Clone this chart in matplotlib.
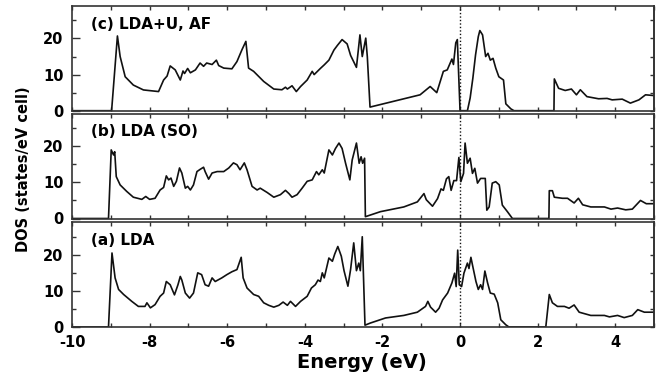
import numpy as np
import matplotlib
matplotlib.use('Agg')
import matplotlib.pyplot as plt
from matplotlib.ticker import MultipleLocator

plt.rcParams['font.family'] = 'DejaVu Sans'
plt.rcParams['font.weight'] = 'bold'
plt.rcParams['axes.unicode_minus'] = False

# (c) LDA+U, AF
energy_c = [-10, -8.98, -8.83, -8.76, -8.63, -8.42, -8.16, -7.77, -7.64, -7.55,
            -7.47, -7.34, -7.21, -7.14, -7.10, -7.02, -6.95, -6.82, -6.70, -6.61,
            -6.53, -6.39, -6.28, -6.22, -6.09, -5.88, -5.75, -5.62, -5.52, -5.45,
            -5.32, -5.06, -4.80, -4.59, -4.50, -4.45, -4.33, -4.22, -4.11, -3.94,
            -3.81, -3.76, -3.60, -3.50, -3.38, -3.25, -3.16, -3.04, -2.91, -2.82,
            -2.67, -2.58, -2.52, -2.43, -2.39, -2.32, -1.03, -0.77, -0.60, -0.43,
            -0.33, -0.21, -0.17, -0.11, -0.07, 0.0, 0.19, 0.26, 0.33, 0.40,
            0.47, 0.51, 0.58, 0.66, 0.72, 0.78, 0.85, 0.92, 1.00, 1.12,
            1.18, 1.31, 1.39, 2.42, 2.43, 2.54, 2.71, 2.87, 3.00, 3.10,
            3.27, 3.57, 3.79, 3.92, 4.18, 4.39, 4.61, 4.78, 4.99]
dos_c = [0, 0, 20.7, 15, 9.4, 7.1, 5.75, 5.3, 8.5, 9.6,
         12.4, 11.3, 8.5, 11, 10.3, 11.7, 10.5, 11.3, 13.2, 12.3,
         13.2, 12.8, 14, 12.5, 11.8, 11.6, 13.6, 16.9, 19.2, 11.8,
         10.9, 8.1, 6, 5.8, 6.5, 6, 6.9, 5.3, 6.7, 8.5,
         10.9, 10, 11.7, 12.7, 14, 16.8, 18.1, 19.7, 18.5, 15.3,
         12, 21, 15, 20.1, 15, 1.0, 4.4, 6.7, 5, 10.9,
         11.3, 14.3, 12.8, 18.8, 19.7, 0, 0, 3.5, 9, 15.5,
         20.5, 22.2, 21, 15, 15.9, 14, 14.5, 11.8, 9.4, 8.5,
         1.9, 0.5, 0, 0, 8.8, 6.2, 5.6, 6, 4.4, 5.8,
         3.9, 3.3, 3.4, 3, 3.2, 2.1, 3, 4.4, 4.2]

# (b) LDA (SO)
energy_b = [-10, -9.06, -8.99, -8.93, -8.90, -8.86, -8.76, -8.59, -8.42, -8.20,
            -8.10, -8.00, -7.86, -7.73, -7.64, -7.57, -7.51, -7.45, -7.38, -7.31,
            -7.23, -7.17, -7.08, -7.02, -6.95, -6.87, -6.78, -6.70, -6.61, -6.57,
            -6.48, -6.39, -6.26, -6.09, -5.96, -5.84, -5.75, -5.67, -5.56, -5.49,
            -5.36, -5.23, -5.15, -4.97, -4.80, -4.63, -4.50, -4.41, -4.33, -4.20,
            -4.07, -3.94, -3.81, -3.70, -3.64, -3.55, -3.50, -3.38, -3.29, -3.21,
            -3.12, -3.04, -2.95, -2.84, -2.78, -2.67, -2.60, -2.55, -2.51, -2.46,
            -2.44, -2.05, -1.45, -1.10, -0.93, -0.87, -0.71, -0.58, -0.49, -0.43,
            -0.35, -0.29, -0.23, -0.16, -0.09, -0.03, 0.02, 0.09, 0.13, 0.19,
            0.26, 0.32, 0.38, 0.45, 0.53, 0.65, 0.69, 0.75, 0.83, 0.92,
            1.01, 1.09, 1.22, 1.35, 2.29, 2.30, 2.38, 2.43, 2.64, 2.77,
            2.94, 3.05, 3.16, 3.37, 3.72, 3.89, 4.06, 4.27, 4.44, 4.65,
            4.80, 5.0]
dos_b = [0, 0, 19, 17.6, 18.5, 11.6, 9.3, 7.5, 5.9, 5.3,
         6.1, 5.3, 5.6, 7.9, 8.6, 11.8, 10.7, 11.2, 8.9, 10.3,
         14, 12.6, 8.4, 8.9, 7.9, 9.3, 13, 13.6, 14.2, 13,
         10.9, 12.6, 13, 13, 14, 15.4, 14.9, 13.5, 15.4, 13.5,
         8.9, 7.9, 8.4, 7.2, 5.9, 6.6, 7.8, 6.9, 5.9, 6.6,
         8.4, 10.3, 10.7, 13, 12.1, 13.5, 12.6, 19, 17.6, 19.4,
         20.9, 19.4, 15.3, 10.7, 16.2, 20.9, 15.3, 17.1, 15.3, 16.7,
         0.5, 1.9, 3.2, 4.6, 6.9, 5.2, 3.4, 5.5, 8.2, 7.8,
         11, 11.6, 7.8, 10.5, 10.5, 16.9, 10.2, 12.5, 20.9, 15.3,
         16.7, 12.5, 13.9, 9.8, 11.1, 11.1, 2.3, 3.2, 9.8, 10.2,
         9.3, 3.7, 1.9, 0, 0, 7.7, 7.7, 5.9, 5.6, 5.6,
         4.3, 5.6, 3.8, 3.2, 3.2, 2.6, 2.9, 2.4, 2.6, 5,
         4.1, 4.1]

# (a) LDA
energy_a = [-10, -9.06, -8.97, -8.89, -8.80, -8.67, -8.46, -8.29, -8.12, -8.07,
            -7.98, -7.86, -7.73, -7.64, -7.57, -7.47, -7.36, -7.27, -7.21, -7.17,
            -7.08, -6.97, -6.87, -6.76, -6.66, -6.57, -6.48, -6.39, -6.31, -6.14,
            -6.01, -5.88, -5.75, -5.64, -5.59, -5.49, -5.32, -5.19, -5.06, -4.93,
            -4.80, -4.67, -4.56, -4.45, -4.37, -4.24, -4.11, -3.94, -3.83, -3.73,
            -3.66, -3.60, -3.55, -3.50, -3.38, -3.29, -3.23, -3.15, -3.06, -2.99,
            -2.89, -2.82, -2.74, -2.67, -2.61, -2.57, -2.52, -2.45, -2.31, -1.92,
            -1.45, -1.10, -0.89, -0.83, -0.76, -0.63, -0.54, -0.45, -0.32, -0.21,
            -0.14, -0.10, -0.06, -0.02, 0.04, 0.10, 0.19, 0.23, 0.28, 0.32,
            0.41, 0.47, 0.53, 0.58, 0.64, 0.71, 0.78, 0.88, 0.97, 1.05,
            1.18, 1.26, 2.21, 2.30, 2.38, 2.51, 2.69, 2.81, 2.94, 3.07,
            3.37, 3.72, 3.85, 4.06, 4.23, 4.44, 4.58, 4.75, 5.0]
dos_a = [0, 0, 20.5, 13.6, 10.4, 9, 7.1, 5.7, 5.7, 6.7,
         5.3, 6.2, 8.5, 9.4, 12.6, 11.7, 8.9, 11.7, 14, 13,
         9.4, 8, 9.4, 15, 14.5, 11.7, 11.3, 13.6, 12.6, 13.6,
         14.5, 15.3, 15.9, 19.3, 13.6, 10.8, 9, 8.5, 6.7, 6,
         5.5, 6, 6.9, 6, 7.1, 5.7, 7.1, 8.5, 10.8, 11.7,
         13, 12.6, 15, 13.6, 19.1, 18.2, 20.2, 22.3, 19.6, 15.6,
         11.3, 16, 23.3, 15.6, 17.7, 15.6, 25, 0.5, 1.1, 2.5,
         3.2, 4.1, 5.7, 7.1, 5.5, 4.1, 5.2, 7.5, 9.4, 12.2,
         14.9, 11.2, 21.3, 11.7, 11.2, 14.9, 17.7, 16.2, 19.3, 17.2,
         12.6, 10.4, 11.7, 10.4, 15.5, 12.2, 9.4, 9.1, 6.7, 2,
         0.6, 0, 0, 9, 6.7, 5.7, 5.7, 5.2, 6.1, 4.1,
         3.2, 3.2, 2.8, 3.2, 2.6, 3.2, 4.8, 4.1, 4.1]

panels = [
    ('(c) LDA+U, AF', energy_c, dos_c),
    ('(b) LDA (SO)', energy_b, dos_b),
    ('(a) LDA', energy_a, dos_a),
]

fig = plt.figure(figsize=(6.62, 3.80), dpi=100)
bottoms = [0.7087, 0.425, 0.1395]
spine_col = '#333333'

for i, (label, x, y) in enumerate(panels):
    ax = fig.add_axes([0.1088, bottoms[i], 0.8792, 0.2755])
    ax.plot(x, y, color='#111111', lw=1.2)
    ax.axvline(0, color='#111111', ls=(0, (1, 1.5)), lw=1.0)
    ax.set_xlim(-10, 5)
    ax.set_ylim(0, 29)
    ax.xaxis.set_major_locator(MultipleLocator(2))
    ax.xaxis.set_minor_locator(MultipleLocator(1))
    ax.yaxis.set_major_locator(MultipleLocator(10))
    ax.yaxis.set_minor_locator(MultipleLocator(5))
    ax.tick_params(axis='x', which='both', direction='in', top=True,
                   length=3, width=1, color=spine_col, labelsize=10.5, pad=5.5)
    ax.tick_params(axis='y', which='major', direction='in', length=5.5,
                   width=1, color=spine_col, labelsize=10.5, pad=6)
    ax.tick_params(axis='y', which='minor', direction='in', length=3,
                   width=1, color=spine_col)
    sec = ax.secondary_yaxis('right')
    sec.yaxis.set_major_locator(MultipleLocator(5))
    sec.tick_params(direction='in', length=3, width=1, color=spine_col,
                    labelright=False)
    sec.spines['right'].set_color(spine_col)
    sec.spines['right'].set_linewidth(1.2)
    for s in ax.spines.values():
        s.set_color(spine_col)
        s.set_linewidth(1.2)
    if i < 2:
        ax.tick_params(axis='x', labelbottom=False)
    ax.text(-9.5, 24, label, fontsize=11, fontweight='bold', va='center',
            ha='left')

fig.text(0.547, 0.045, 'Energy (eV)', fontsize=14, fontweight='bold',
         ha='center', va='center')
fig.text(0.036, 0.555, 'DOS (states/eV cell)', fontsize=10.5,
         fontweight='bold', rotation=90, ha='center', va='center')

fig.savefig('out.png', dpi=100)
